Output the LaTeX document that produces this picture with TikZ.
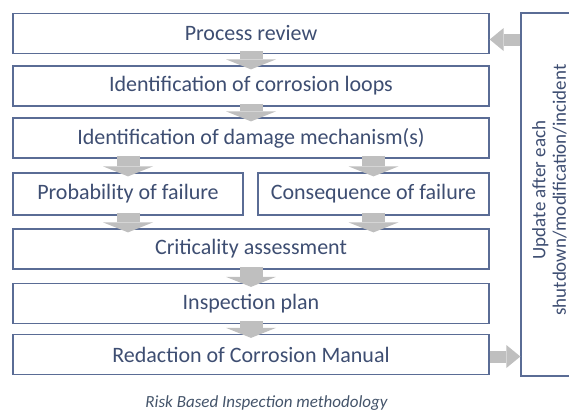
\documentclass[tikz,border=0pt]{standalone}
\usepackage{fontspec}
\setmainfont{Carlito}
\usepackage{tikz}
\usetikzlibrary{arrows.meta,positioning,calc}
\definecolor{BoxBlue}{HTML}{5A6C95}
\definecolor{TextBlue}{HTML}{3E4E72}
\definecolor{CaptionBlue}{HTML}{44546A}
\definecolor{ArrowGray}{HTML}{BFBFBF}
\tikzset{
  procbox/.style={draw=BoxBlue,line width=1.3pt,fill=white,minimum height=40pt,align=center,text=TextBlue,font=\fontsize{22}{26}\selectfont,inner sep=0pt},
  updatebox/.style={draw=BoxBlue,line width=1.3pt,fill=white,minimum width=80pt,minimum height=363pt,inner sep=0pt},
  blockarrow/.style={draw=ArrowGray,line width=23pt,-{Triangle[width=50pt,length=10pt,line width=0pt]}},
  sidearrow/.style={draw=ArrowGray,line width=12pt,-{Triangle[width=23pt,length=14pt,line width=0pt]}}
}
\begin{document}
\begin{tikzpicture}[x=1pt,y=-1pt]
\clip (0,0) rectangle (569,410);
\node[procbox,minimum width=476pt] (review) at (251,33.5) {Process review};
\node[procbox,minimum width=476pt] (loops) at (251,86) {Identification of corrosion loops};
\node[procbox,minimum width=476pt] (mech) at (251,138) {Identification of damage mechanism(s)};
\node[procbox,minimum width=230pt,minimum height=42pt] (prob) at (128,194) {Probability of failure};
\node[procbox,minimum width=231pt,minimum height=42pt] (cons) at (373.5,194) {Consequence of failure};
\node[procbox,minimum width=476pt] (crit) at (251,249) {Criticality assessment};
\node[procbox,minimum width=476pt] (plan) at (251,303.5) {Inspection plan};
\node[procbox,minimum width=476pt] (redac) at (251,354.5) {Redaction of Corrosion Manual};
\node[updatebox] (update) at (561,194.5) {};
\node[rotate=90,align=center,text=TextBlue,font=\fontsize{19}{20.5}\selectfont] (updatetext) at (549.5,190) {Update after each\\shutdown/modification/incident};
% flow arrows
\draw[blockarrow] ([yshift=3pt]review.south) -- ([yshift=-4pt]loops.north);
\draw[blockarrow] ([yshift=3pt]loops.south) -- ([yshift=-4pt]mech.north);
\draw[blockarrow] ([yshift=3pt]prob.north |- mech.south) -- ([yshift=-4pt]prob.north);
\draw[blockarrow] ([yshift=3pt]cons.north |- mech.south) -- ([yshift=-4pt]cons.north);
\draw[blockarrow] ([yshift=3pt]prob.south) -- ([yshift=-4pt]prob.south |- crit.north);
\draw[blockarrow] ([yshift=3pt]cons.south) -- ([yshift=-4pt]cons.south |- crit.north);
\draw[blockarrow] ([yshift=3pt]crit.south) -- ([yshift=-4pt]plan.north);
\draw[blockarrow] ([yshift=3pt]plan.south) -- ([yshift=-4pt]redac.north);
% feedback loop
\draw[sidearrow] ([yshift=-6pt]update.west |- review.east) -- ([yshift=-6pt]review.east);
\draw[sidearrow] ([yshift=-2pt]redac.east) -- ([yshift=-2pt]update.west |- redac.east);
\node[anchor=base,text=CaptionBlue,font=\fontsize{17}{20}\itshape] (caption) at (266.5,407) {Risk Based Inspection methodology};
\end{tikzpicture}
\end{document}
